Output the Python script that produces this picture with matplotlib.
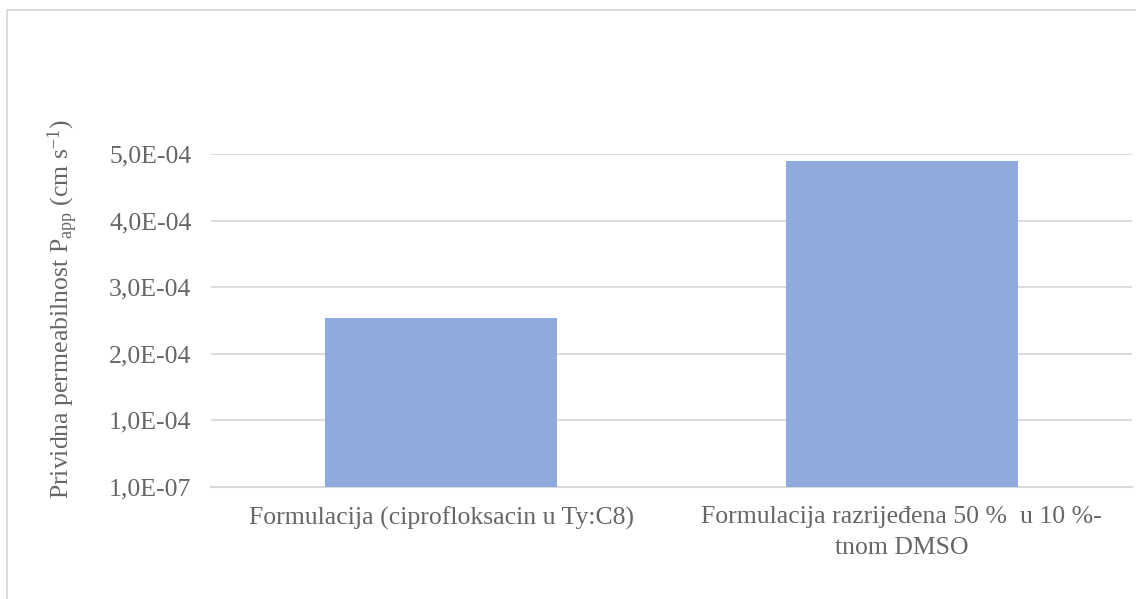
import numpy as np
import matplotlib
matplotlib.use("Agg")
import matplotlib.pyplot as plt
from matplotlib.patches import Rectangle

plt.rcParams['font.family'] = ['Liberation Serif', 'DejaVu Serif']
plt.rcParams['mathtext.fontset'] = 'custom'
plt.rcParams['mathtext.rm'] = 'Liberation Serif'
plt.rcParams['mathtext.it'] = 'Liberation Serif:italic'

categories = ["Formulacija (ciprofloksacin u Ty:C8)",
              "Formulacija razrijeđena 50 %  u 10 %-\ntnom DMSO"]
values = [2.54e-4, 4.895e-4]
yticks = [1e-7, 1.0001e-4, 2.0001e-4, 3.0001e-4, 4.0001e-4, 5.0001e-4]
ytick_labels = ["1,0E-07", "1,0E-04", "2,0E-04", "3,0E-04", "4,0E-04", "5,0E-04"]

text_color = "#666666"
grid_color = "#D9D9D9"
bar_color = "#8FAADC"

fig = plt.figure(figsize=(11.36, 5.99), dpi=100)
ax = fig.add_axes([0.1857, 0.187, 0.8108, 0.556])

x = np.arange(len(categories))
ax.bar(x, values, width=0.504, color=bar_color, zorder=3)

ax.set_xlim(-0.5, 1.5)
ax.set_ylim(yticks[0], yticks[-1])
ax.set_yticks(yticks)
ax.set_yticklabels(ytick_labels)
ax.set_xticks(x)
ax.set_xticklabels(categories, linespacing=1.5)

ax.grid(axis='y', color=grid_color, linewidth=1.3, zorder=0)
ax.tick_params(axis='both', length=0, labelsize=18.5, labelcolor=text_color)
ax.tick_params(axis='y', pad=14)
ax.tick_params(axis='x', pad=14)
for side in ['top', 'right', 'left']:
    ax.spines[side].set_visible(False)
ax.spines['bottom'].set_color(grid_color)
ax.spines['bottom'].set_linewidth(1.5)

fig.text(0.055, 0.484, r"Prividna permeabilnost P$_{\mathrm{app}}$ (cm s$^{\mathrm{-1}}$)",
         rotation=90, ha='center', va='center', fontsize=18.5, color=text_color)

# chart border
fig.patches.append(Rectangle((7 / 1136, -0.1), 1.2, (599 - 9.5) / 599 + 0.1,
                             transform=fig.transFigure, fill=False,
                             edgecolor=grid_color, linewidth=1.3))

fig.savefig("out.png", dpi=100)
